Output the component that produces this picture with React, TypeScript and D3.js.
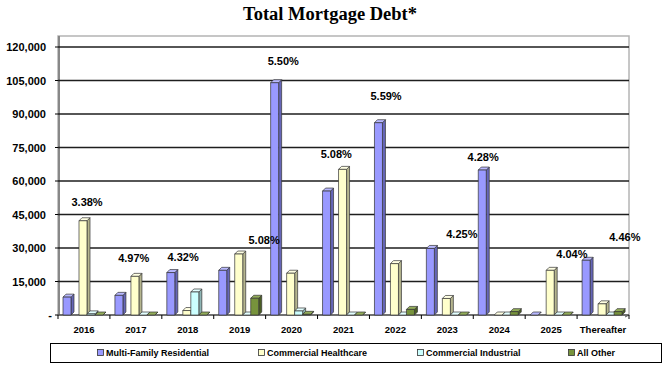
import React from 'react';
import * as d3 from 'd3';

const categories = ['2016', '2017', '2018', '2019', '2020', '2021', '2022', '2023', '2024', '2025', 'Thereafter'];
const seriesNames = ['Multi-Family Residential', 'Commercial Healthcare', 'Commercial Industrial', 'All Other'];
const multiFamily = [8000, 8800, 19000, 20000, 104000, 55500, 86100, 29800, 64900, 0, 24500];
const healthcare = [42200, 17300, 2000, 27300, 18700, 65200, 23000, 7400, 0, 20000, 5000];
const industrial = [500, 0, 10300, 0, 1800, 0, 0, 0, 0, 0, 0];
const allOther = [0, 0, 0, 7500, 300, 0, 2500, 0, 1500, 0, 1500];
const rates = ['3.38%', '4.97%', '4.32%', '5.08%', '5.50%', '5.08%', '5.59%', '4.25%', '4.28%', '4.04%', '4.46%'];
// where each rate label sits: level in debt units, and shift across the category band
const rateLabelLevel = [50600, 25500, 26000, 33600, 113700, 72100, 98100, 36300, 70800, 27300, 34900];
const rateLabelShift = [0.56, 0.46, 0.41, 0.97, 0.34, 0.36, 0.32, 0.78, 0.19, 0.9, 0.92];
const yTicks = [0, 15000, 30000, 45000, 60000, 75000, 90000, 105000, 120000];

const seriesValues = [multiFamily, healthcare, industrial, allOther];

// front / side / top colours for the 3d bars
const faces = [
  { front: '#9999ff', side: '#6666b8', top: '#b8b8ff' },
  { front: '#ffffcc', side: '#b5b58e', top: '#ffffe3' },
  { front: '#ccffff', side: '#8eb5b5', top: '#e3ffff' },
  { front: '#77933c', side: '#4b5e24', top: '#93ad5a' },
];

const W = 665;
const H = 368;
const plotLeft = 58;
const plotRight = 629;
const plotTop = 36;
const baseY = 315;
const barW = 8;
const depth = 3;
const font = '"Liberation Sans", Arial, sans-serif';

const App: React.FC = () => {
  const x = d3.scaleBand<string>().domain(categories).range([plotLeft, plotRight]).padding(0);
  const y = d3.scaleLinear().domain([0, 120000]).range([baseY, 47]);
  // slot of each series within a category (second slot left empty)
  const slot = d3.scaleOrdinal<string, number>().domain(seriesNames).range([0, 2, 3, 4]);
  const offset = (s: string) => 5 + slot(s) * barW;
  const fmt = d3.format(',');

  return (
    <svg width={W} height={H} style={{ position: 'absolute', left: 0, top: 0, background: '#fff' }}>
      <text x={330} y={20} textAnchor="middle" fontFamily='"Liberation Serif", "Times New Roman", serif'
        fontWeight="bold" fontSize={18.5}>Total Mortgage Debt*</text>

      {/* back wall */}
      <rect x={plotLeft} y={plotTop} width={plotRight - plotLeft} height={baseY - plotTop}
        fill="#fff" stroke="#b4b4b4" strokeWidth={1.5} />
      <line x1={plotLeft + 1} x2={plotLeft + 1} y1={plotTop} y2={baseY} stroke="#888" strokeWidth={2} />

      {/* gridlines + y axis */}
      {yTicks.map(t => (
        <g key={t}>
          {t > 0 && (
            <line x1={plotLeft} x2={plotRight} y1={y(t)} y2={y(t)} stroke="#1e1e1e" strokeWidth={1.3} />
          )}
          <line x1={plotLeft - 3} x2={plotLeft} y1={y(t)} y2={y(t)} stroke="#000" strokeWidth={1} />
          <text x={t === 0 ? 52 : 46} y={y(t) + 4} textAnchor="end" fontFamily={font} fontWeight="bold"
            fontSize={11}>{t === 0 ? '-' : fmt(t)}</text>
        </g>
      ))}

      {/* floor */}
      <line x1={plotLeft} x2={plotRight} y1={baseY} y2={baseY} stroke="#555" strokeWidth={1.5} />
      <line x1={plotRight} x2={plotRight - 4} y1={baseY} y2={baseY + 2} stroke="#555" strokeWidth={1} />
      {categories.map(c => (
        <line key={'t' + c} x1={x(c)!} x2={x(c)!} y1={baseY} y2={baseY + 4} stroke="#000" strokeWidth={1} />
      ))}
      <line x1={plotRight} x2={plotRight} y1={baseY} y2={baseY + 4} stroke="#000" strokeWidth={1} />

      {/* bars */}
      {seriesNames.map((s, si) =>
        categories.map((c, ci) => {
          const v = seriesValues[si][ci];
          const x0 = x(c)! + offset(s);
          const x1 = x0 + barW;
          const yt = y(v);
          const f = faces[si];
          return (
            <g key={s + c} stroke="#333" strokeWidth={0.7} strokeLinejoin="round">
              <path d={`M${x1},${baseY} L${x1 + depth},${baseY - depth} L${x1 + depth},${yt - depth} L${x1},${yt} Z`}
                fill={f.side} />
              <path d={`M${x0},${yt} L${x0 + depth},${yt - depth} L${x1 + depth},${yt - depth} L${x1},${yt} Z`}
                fill={f.top} />
              {v > 0 && <rect x={x0} y={yt} width={barW} height={baseY - yt} fill={f.front} />}
            </g>
          );
        })
      )}

      {/* rate labels */}
      {rates.map((r, i) => (
        <text key={'r' + i} x={x(categories[i])! + rateLabelShift[i] * x.bandwidth()} y={y(rateLabelLevel[i]) + 4}
          textAnchor="middle" fontFamily={font} fontWeight="bold" fontSize={11}>{r}</text>
      ))}

      {/* x labels */}
      {categories.map(c => (
        <text key={'x' + c} x={x(c)! + x.bandwidth() / 2} y={333} textAnchor="middle" fontFamily={font}
          fontWeight="bold" fontSize={9.5}>{c}</text>
      ))}

      {/* legend */}
      <rect x={50.5} y={343.5} width={611} height={19} fill="#fff" stroke="#000" strokeWidth={1} />
      {seriesNames.map((s, i) => {
        const lx = [97, 258, 417, 568][i];
        return (
          <g key={'l' + s}>
            <rect x={lx + 0.5} y={349.5} width={6} height={6} fill={faces[i].front} stroke="#333" strokeWidth={0.8} />
            <text x={lx + 9} y={356} fontFamily={font} fontWeight="bold" fontSize={9}>{s}</text>
          </g>
        );
      })}
    </svg>
  );
};

export default App;
